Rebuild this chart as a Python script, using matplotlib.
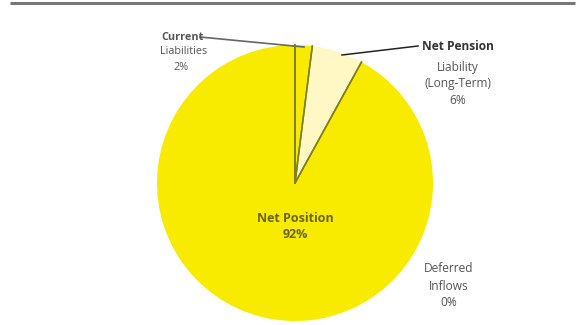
import numpy as np
import matplotlib.pyplot as plt

# share of liabilities, deferred inflows and net position
labels = ['Current\nLiabilities', 'Net Pension\nLiability\n(Long-Term)', 'Net Position', 'Deferred\nInflows']
shares = [2, 6, 92, 0]
colors = ['#f8eb00', '#fff8c4', '#f8eb00', '#f8eb00']

fig = plt.figure(figsize=(5.82, 3.25), dpi=100)
ax = fig.add_axes([0, 0, 1, 1])

cx, cy, r = 295, 142, 138
wedges, _ = ax.pie(shares, colors=colors, startangle=90, counterclock=False,
                   center=(cx, cy), radius=r, frame=True,
                   wedgeprops=dict(linewidth=0))
ax.set_xlim(0, 582)
ax.set_ylim(0, 325)
ax.set_aspect('equal')
ax.axis('off')

# olive divider lines between slices
for w in wedges:
    for th in (w.theta1, w.theta2):
        t = np.deg2rad(th)
        ax.plot([cx, cx + r * np.cos(t)], [cy, cy + r * np.sin(t)],
                color='#80801a', lw=1.1, zorder=3)

# clipped rule across the top
ax.plot([10, 575], [322, 322], color='#777777', lw=2.2, solid_capstyle='butt')

base = dict(family=['Open Sans', 'DejaVu Sans'], ha='center', va='center')
grey = '#555555'

# current liabilities
ax.text(183, 287, 'Current', fontweight='bold', fontsize=7.8, color=grey, **base)
ax.text(184, 274, 'Liabilities', fontsize=7.8, color=grey, **base)
ax.text(181, 258, f'{shares[0]}%', fontsize=7.8, color=grey, **base)
ax.plot([200, 304], [288, 278], color='#666666', lw=1.2)

# net pension liability
ax.text(458, 278, 'Net Pension', fontweight='bold', fontsize=8.6, color='#333333', **base)
ax.text(458, 258, 'Liability', fontsize=8.6, color=grey, **base)
ax.text(458, 242, '(Long-Term)', fontsize=8.6, color=grey, **base)
ax.text(458, 225, f'{shares[1]}%', fontsize=8.6, color=grey, **base)
ax.plot([342, 418], [270, 279], color='#222222', lw=1.1)

# net position
ax.text(295, 107, 'Net Position', fontweight='bold', fontsize=9, color='#6a6400', **base)
ax.text(295, 90, f'{shares[2]}%', fontweight='bold', fontsize=9, color='#6a6400', **base)

# deferred inflows
ax.text(449, 56, 'Deferred', fontsize=8.6, color=grey, **base)
ax.text(449, 39, 'Inflows', fontsize=8.6, color=grey, **base)
ax.text(449, 22, f'{shares[3]}%', fontsize=8.6, color=grey, **base)

fig.savefig('out.png', dpi=100)
